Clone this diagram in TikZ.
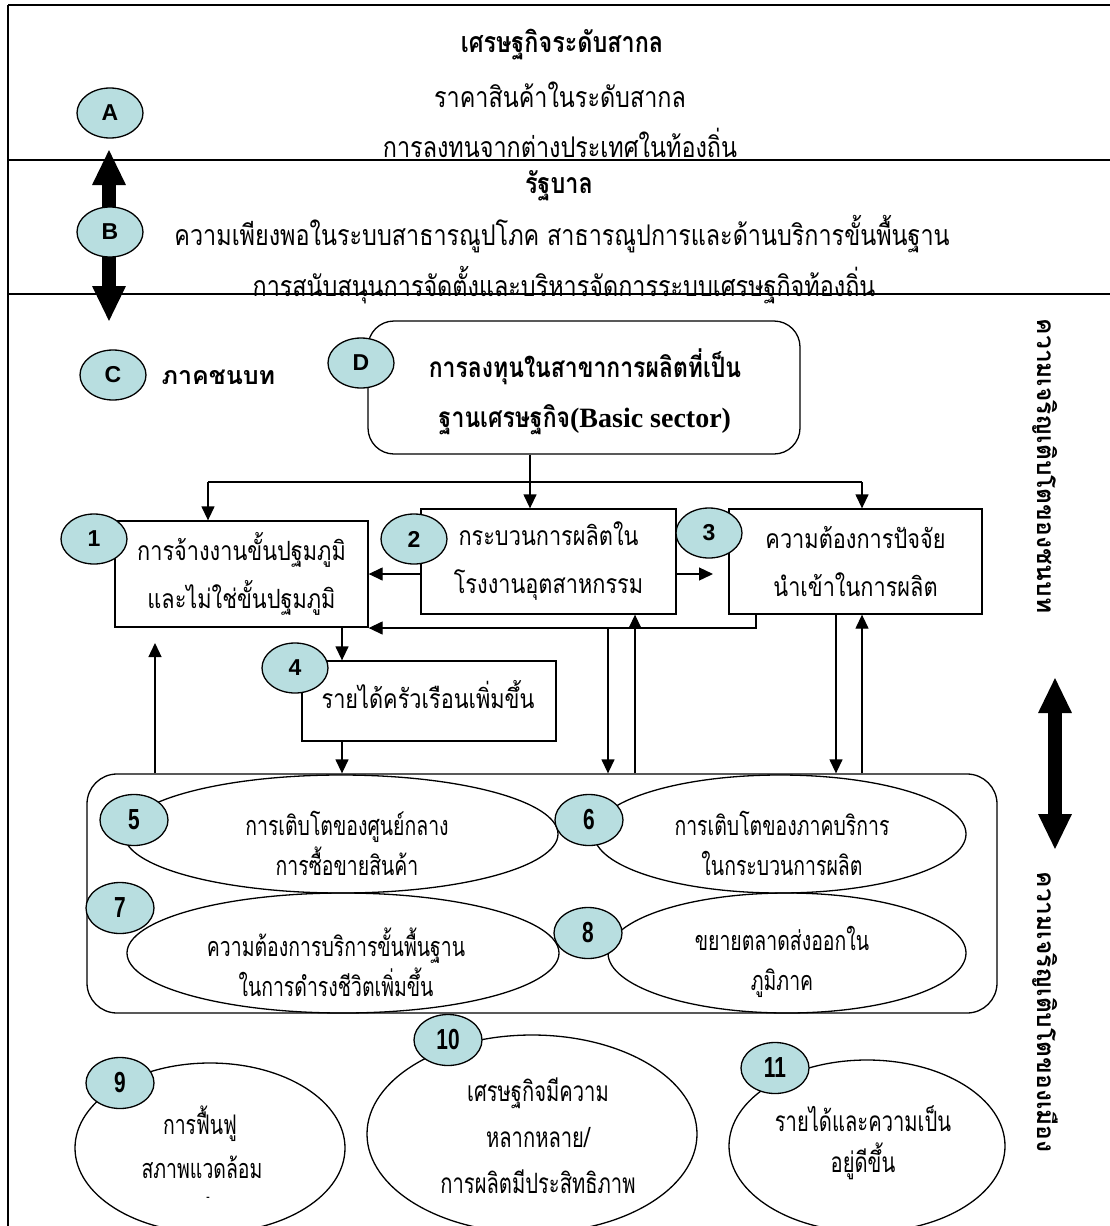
\documentclass[tikz,border=0pt]{standalone}
\usepackage{fontspec}
\usetikzlibrary{arrows.meta,shapes.geometric,calc}
\newfontfamily\thr[Script=Thai,FakeStretch=0.82]{Loma}
\newfontfamily\then[Script=Thai,FakeStretch=0.72]{Loma}
\newfontfamily\thv[Script=Thai]{Loma}
\newfontfamily\numf{Liberation Sans}
\newfontfamily\numn[FakeStretch=0.72]{Liberation Sans}
\newfontfamily\latb{Liberation Serif}
\definecolor{tealc}{RGB}{184,222,224}
\begin{document}
\begin{tikzpicture}[x=1pt,y=-1pt,
  frame/.style={line width=1.8pt},
  num/.style={ellipse,draw,line width=1.3pt,fill=tealc,minimum width=66pt,minimum height=50pt,inner sep=0pt,font=\numf\bfseries\fontsize{23}{23}\selectfont},
  numb/.style={num,minimum width=68pt,minimum height=51pt,font=\numn\bfseries\fontsize{29}{29}\selectfont},
  boxn/.style={draw,line width=1.3pt,inner sep=0pt,align=center,font=\thr\fontsize{26.5}{48}\selectfont},
  ell/.style={ellipse,draw,line width=1.3pt,inner sep=0pt},
  etext/.style={align=center,font=\then\fontsize{27}{40}\selectfont},
  ttext/.style={font=\thr\fontsize{28.5}{28.5}\selectfont},
  tbold/.style={font=\thr\bfseries\fontsize{28.5}{28.5}\selectfont},
  arr/.style={line width=1.3pt,-{Triangle[length=14pt,width=13pt]}},
  con/.style={line width=1.3pt},
  thick2/.style={line width=14pt,{Triangle[length=36pt,width=31pt]}-{Triangle[length=36pt,width=31pt]}},
  vtext/.style={rotate=-90,font=\thv\bfseries\fontsize{24.5}{24.5}\selectfont}
]
\useasboundingbox (0,0) rectangle (1110,1226);
\fill[white] (0,0) rectangle (1110,1226);

% top sections text
\node[tbold] (t1) at (562,45) {เศรษฐกิจระดับสากล};
\node[ttext] (t2) at (560,95) {ราคาสินค้าในระดับสากล};
\node[ttext] (t3) at (560,143) {การลงทนจากต่างประเทศในท้องถิ่น};
\node[tbold] (t4) at (559,186) {รัฐบาล};
\node[ttext] (t5) at (562,234) {ความเพียงพอในระบบสาธารณูปโภค สาธารณูปการและด้านบริการขั้นพื้นฐาน};
\node[ttext] (t6) at (564,285) {การสนับสนุนการจัดตั้งและบริหารจัดการระบบเศรษฐกิจท้องถิ่น};

% frame
\draw[frame] (8,5) -- (1110,5);
\draw[frame] (8,5) -- (8,1226);
\draw[frame] (8,160) -- (1110,160);
\draw[frame] (8,294) -- (1110,294);

% thick arrows
\coordinate (ab1) at (109,149);
\coordinate (ab2) at (109,322);
\draw[thick2] (ab1) -- (ab2);
\coordinate (rr1) at (1055,677);
\coordinate (rr2) at (1055,850);
\draw[thick2] (rr1) -- (rr2);

% vertical texts
\node[vtext] (v1) at (1045,466) {ความเจริญเติบโตของชนบท};
\node[vtext] (v2) at (1045,1012) {ความเจริญเติบโตของเมือง};

% C label
\node[font=\thv\bfseries\fontsize{25}{25}\selectfont,anchor=west] (ctx) at (158,377) {ภาคชนบท};

% D box
\node[draw,line width=1.3pt,rounded corners=26pt,minimum width=432pt,minimum height=133pt,inner sep=0pt] (bD) at (584,387.5) {};
\node[align=center,font=\thr\bfseries\fontsize{28}{50}\selectfont] (tD) at (585,392) {การลงทุนในสาขาการผลิตที่เป็น\\ฐานเศรษฐกิจ{\latb\bfseries (Basic sector)}};

% boxes 1-4
\node[boxn,minimum width=253pt,minimum height=106pt] (b1) at (241.5,574) {การจ้างงานขั้นปฐมภูมิ\\และไม่ใช่ขั้นปฐมภูมิ};
\node[boxn,minimum width=255pt,minimum height=105pt] (b2) at (548.5,561.5) {กระบวนการผลิตใน\\โรงงานอุตสาหกรรม};
\node[boxn,minimum width=253pt,minimum height=105pt] (b3) at (855.5,561.5) {ความต้องการปัจจัย\\นำเข้าในการผลิต};
\node[draw,line width=1.3pt,minimum width=254pt,minimum height=80pt,inner sep=0pt] (b4) at (429,701) {};
\node[font=\thr\fontsize{26.5}{26.5}\selectfont] (t4b) at (428,695) {รายได้ครัวเรือนเพิ่มขึ้น};

% group box
\node[draw,line width=1.3pt,rounded corners=30pt,minimum width=910pt,minimum height=239pt,inner sep=0pt] (grp) at (542,893.5) {};

% ellipses
\node[ell,minimum width=434pt,minimum height=118pt] (e5) at (341,834) {};
\node[ell,minimum width=372pt,minimum height=118pt] (e6) at (780,834) {};
\node[ell,minimum width=432pt,minimum height=120pt] (e7) at (343,953) {};
\node[ell,minimum width=358pt,minimum height=120pt] (e8) at (787,953) {};
\node[etext] (te5) at (347,843) {การเติบโตของศูนย์กลาง\\การซื้อขายสินค้า};
\node[etext] (te6) at (782,843) {การเติบโตของภาคบริการ\\ในกระบวนการผลิต};
\node[etext] (te7) at (336,962) {ความต้องการบริการขั้นพื้นฐาน\\ในการดำรงชีวิตเพิ่มขึ้น};
\node[etext] (te8) at (782,962) {ขยายตลาดส่งออกใน\\ภูมิภาค};

% bottom ellipses
\node[ell,minimum width=270pt,minimum height=170pt] (e9) at (210,1148) {};
\node[ell,minimum width=330pt,minimum height=198pt] (e10) at (532,1134) {};
\node[ell,minimum width=276pt,minimum height=172pt] (e11) at (867,1146) {};
\node[font=\then\fontsize{27}{27}\selectfont] (te9a) at (200,1124) {การฟื้นฟู};
\node[font=\then\fontsize{27}{27}\selectfont] (te9) at (202,1167) {สภาพแวดล้อม};
\node[font=\then\fontsize{14}{14}\selectfont] (te9b) at (208,1199) {-};
\node[etext,font=\then\fontsize{28}{46}\selectfont] (te10) at (538,1136) {เศรษฐกิจมีความ\\หลากหลาย/\\การผลิตมีประสิทธิภาพ};
\node[etext,font=\then\fontsize{28}{41}\selectfont] (te11) at (863,1143) {รายได้และความเป็น\\อยู่ดีขึ้น};

% connectors
\coordinate (j1) at (208,482);
\coordinate (jD) at (530,482);
\coordinate (j3) at (862,482);
\draw[con] (j1) -- (j3);
\draw[arr] (bD.south -| jD) -- (b2.north -| jD);
\draw[arr] (j1) -- (b1.north -| j1);
\draw[arr] (j3) -- (b3.north -| j3);

\coordinate (h21) at (400,574);
\draw[arr] (b2.west |- h21) -- (b1.east |- h21);
\coordinate (a23) at (713,574);
\draw[arr] (b2.east |- h21) -- (a23);

\coordinate (v31) at (756,628);
\draw[arr] (b3.south -| v31) -- (v31) -- (b1.east |- v31);
\coordinate (v6) at (608,628);
\draw[arr] (v6) -- (grp.north -| v6);
\coordinate (u2) at (635,700);
\draw[arr] (grp.north -| u2) -- (b2.south -| u2);
\coordinate (d3) at (836,700);
\draw[arr] (b3.south -| d3) -- (grp.north -| d3);
\coordinate (u3) at (862,700);
\draw[arr] (grp.north -| u3) -- (b3.south -| u3);

\coordinate (x14) at (342,700);
\draw[arr] (b1.south -| x14) -- (b4.north -| x14);
\draw[arr] (b4.south -| x14) -- (grp.north -| x14);
\coordinate (u1) at (155,643);
\draw[arr] (grp.north -| u1) -- (u1);

% number circles
\node[num] (nA) at (110,113) {A};
\node[num] (nB) at (110,232) {B};
\node[num] (nC) at (113,375) {C};
\node[num] (nD) at (361,363) {D};
\node[num] (n1) at (94,539) {1};
\node[num] (n2) at (414,539) {2};
\node[num] (n3) at (709,533) {3};
\node[num] (n4) at (295,668) {4};
\node[numb] (n5) at (134,820) {5};
\node[numb] (n6) at (589,820) {6};
\node[numb] (n7) at (120,908) {7};
\node[numb] (n8) at (588,933) {8};
\node[numb] (n9) at (120,1083) {9};
\node[numb] (n10) at (448,1040) {10};
\node[numb] (n11) at (775,1068) {11};
\end{tikzpicture}
\end{document}
